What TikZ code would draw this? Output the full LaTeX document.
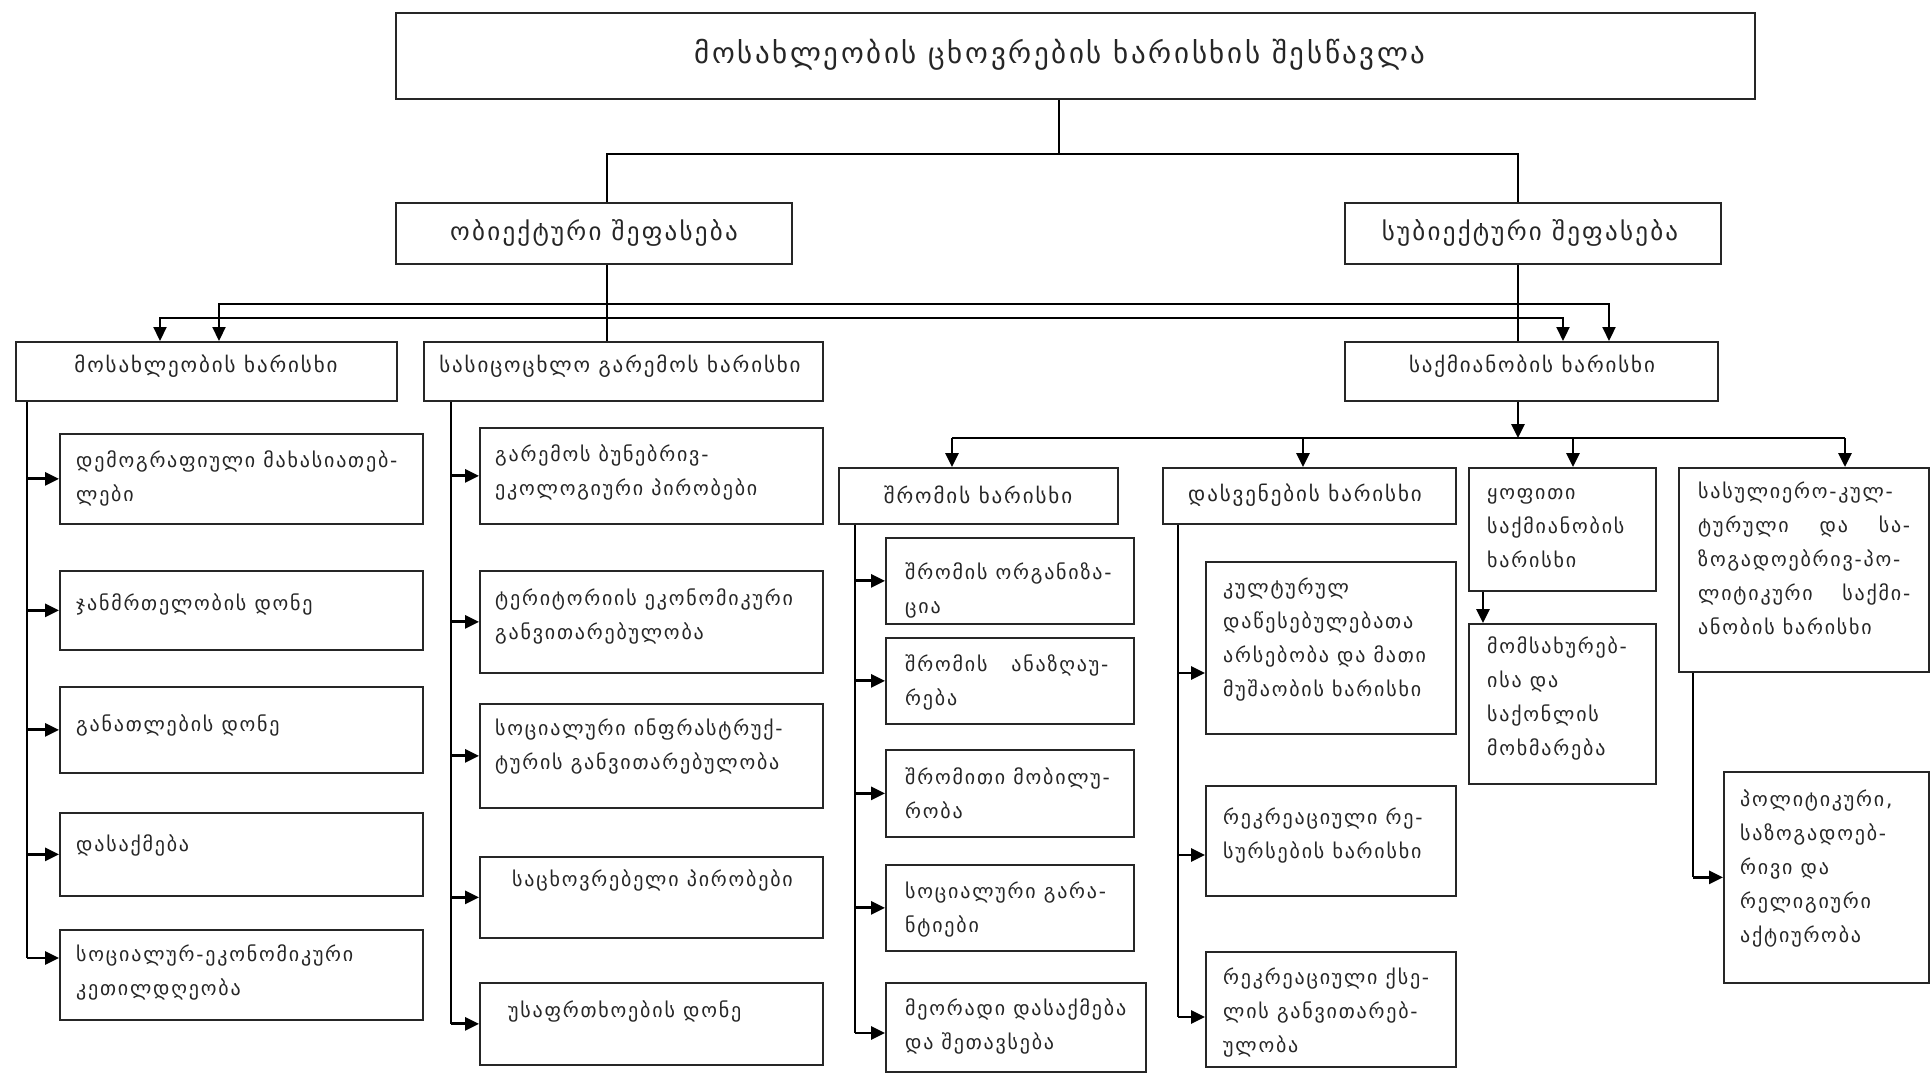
\documentclass[tikz,border=0pt]{standalone}
\usepackage{fontspec}
\setmainfont{DejaVu Sans}[LetterSpace=9]
\usetikzlibrary{arrows.meta}
\newcommand\fbody{\fontsize{20}{34}\selectfont}
\newcommand\fthree{\fontsize{21}{34}\selectfont}
\newcommand\ftwo{\fontsize{25}{30}\selectfont}
\newcommand\fone{\fontsize{29}{34}\selectfont}
\newcommand\ml[1]{\begin{tabular}[t]{@{}l@{}}#1\end{tabular}}
\newcommand\jl[1]{\makebox[212pt][s]{#1}}
\newcommand\mybox[5]{\node[box, minimum width={(#4)-(#2)}, minimum height={(#5)-(#3)}] (#1) at (#2,#3) {};}
\begin{document}
\begin{tikzpicture}[x=1pt,y=-1pt,
  box/.style={draw=black!85, line width=1.7pt, inner sep=0pt, anchor=north west, rectangle},
  txt/.style={inner sep=0pt, anchor=base west, font=\fbody, text=black!85},
  ctxt/.style={inner sep=0pt, anchor=center, text=black!85},
  ln/.style={line width=2.2pt, draw=black},
  arr/.style={line width=2.9pt, draw=black, -{Triangle[length=14pt,width=13pt]}},
  darr/.style={ln, {Triangle[length=14pt,width=13pt]}-{Triangle[length=14pt,width=13pt]}},
]
\fill[white] (0,0) rectangle (1930,1073);
\useasboundingbox (0,0) rectangle (1930,1073);

% ---- boxes ----
\mybox{title}{395}{12}{1754}{98}
\mybox{ol}{395}{202}{791}{263}
\mybox{sl}{1344}{202}{1720}{263}
\mybox{A}{15}{341}{396}{400}
\mybox{B}{423}{341}{822}{400}
\mybox{C}{1344}{341}{1717}{400}
\mybox{a1}{59}{433}{422}{523}
\mybox{a2}{59}{570}{422}{649}
\mybox{a3}{59}{686}{422}{772}
\mybox{a4}{59}{812}{422}{895}
\mybox{a5}{59}{929}{422}{1019}
\mybox{b1}{479}{427}{822}{523}
\mybox{b2}{479}{570}{822}{672}
\mybox{b3}{479}{703}{822}{807}
\mybox{b4}{479}{856}{822}{937}
\mybox{b5}{479}{982}{822}{1064}
\mybox{S}{838}{467}{1117}{523}
\mybox{c1}{885}{537}{1133}{623}
\mybox{c2}{885}{637}{1133}{723}
\mybox{c3}{885}{749}{1133}{836}
\mybox{c4}{885}{864}{1133}{950}
\mybox{c5}{885}{982}{1145}{1071}
\mybox{D}{1162}{467}{1455}{523}
\mybox{d1}{1205}{561}{1455}{733}
\mybox{d2}{1205}{785}{1455}{895}
\mybox{d3}{1205}{951}{1455}{1066}
\mybox{Y}{1468}{467}{1655}{590}
\mybox{m}{1468}{623}{1655}{783}
\mybox{R}{1678}{467}{1928}{671}
\mybox{p}{1723}{771}{1928}{982}

% ---- texts ----
\node[ctxt, font=\fone] (title-t) at (1060,55) {მოსახლეობის ცხოვრების ხარისხის შესწავლა};
\node[ctxt, font=\ftwo] (ol-t) at (594,233) {ობიექტური შეფასება};
\node[ctxt, font=\ftwo] (sl-t) at (1530,233) {სუბიექტური შეფასება};
\node[ctxt, font=\fthree] (A-t) at (206,366) {მოსახლეობის ხარისხი};
\node[ctxt, font=\fthree] (B-t) at (620,366) {სასიცოცხლო გარემოს ხარისხი};
\node[ctxt, font=\fthree] (C-t) at (1532,366) {საქმიანობის ხარისხი};
\node[ctxt, font=\fthree] (S-t) at (978,495) {შრომის ხარისხი};
\node[ctxt, font=\fthree] (D-t) at (1305,495) {დასვენების ხარისხი};

\node[txt] (a1-t) at (76,467) {\ml{დემოგრაფიული მახასიათებ-\\ლები}};
\node[txt] (a2-t) at (76,610) {ჯანმრთელობის დონე};
\node[txt] (a3-t) at (76,731) {განათლების დონე};
\node[txt] (a4-t) at (76,851) {დასაქმება};
\node[txt] (a5-t) at (76,961) {\ml{სოციალურ-ეკონომიკური\\კეთილდღეობა}};

\node[txt] (b1-t) at (495,461) {\ml{გარემოს ბუნებრივ-\\ეკოლოგიური პირობები}};
\node[txt] (b2-t) at (495,605) {\ml{ტერიტორიის ეკონომიკური\\განვითარებულობა}};
\node[txt] (b3-t) at (495,735) {\ml{სოციალური ინფრასტრუქ-\\ტურის განვითარებულობა}};
\node[txt] (b4-t) at (512,886) {საცხოვრებელი პირობები};
\node[txt] (b5-t) at (508,1017) {უსაფრთხოების დონე};

\node[txt] (c1-t) at (905,579) {\ml{შრომის ორგანიზა-\\ცია}};
\node[txt] (c2-t) at (905,671) {\ml{შრომის\hspace{1.2em}ანაზღაუ-\\რება}};
\node[txt] (c3-t) at (905,784) {\ml{შრომითი მობილუ-\\რობა}};
\node[txt] (c4-t) at (905,898) {\ml{სოციალური გარა-\\ნტიები}};
\node[txt] (c5-t) at (905,1015) {\ml{მეორადი დასაქმება\\და შეთავსება}};

\node[txt] (d1-t) at (1223,594) {\ml{კულტურულ\\დაწესებულებათა\\არსებობა და მათი\\მუშაობის ხარისხი}};
\node[txt] (d2-t) at (1223,824) {\ml{რეკრეაციული რე-\\სურსების ხარისხი}};
\node[txt] (d3-t) at (1223,984) {\ml{რეკრეაციული ქსე-\\ლის განვითარებ-\\ულობა}};

\node[txt] (Y-t) at (1487,499) {\ml{ყოფითი\\საქმიანობის\\ხარისხი}};
\node[txt] (m-t) at (1487,653) {\ml{მომსახურებ-\\ისა და\\საქონლის\\მოხმარება}};
\node[txt] (R-t) at (1698,498) {\ml{სასულიერო-კულ-\\\jl{ტურული და სა-}\\ზოგადოებრივ-პო-\\\jl{ლიტიკური საქმი-}\\ანობის ხარისხი}};
\node[txt] (p-t) at (1740,806) {\ml{პოლიტიკური,\\საზოგადოებ-\\რივი და\\რელიგიური\\აქტიურობა}};

% ---- connectors ----
\coordinate (j) at (1059,154);
\coordinate (lx) at (607,0);
\coordinate (rx) at (1518,0);
\draw[ln] (title.south -| j) -- (j);
\draw[ln] (lx |- ol.north) -- (lx |- j) -- (rx |- j) -- (rx |- sl.north);
\draw[ln] (lx |- ol.south) -- (lx |- B.north);
\draw[ln] (rx |- sl.south) -- (rx |- C.north);

\coordinate (u1) at (219,304); \coordinate (u2) at (1609,304);
\coordinate (w1) at (160,318); \coordinate (w2) at (1563,318);
\draw[darr] (u1 |- A.north) -- (u1) -- (u2) -- (u2 |- C.north);
\draw[darr] (w1 |- A.north) -- (w1) -- (w2) -- (w2 |- C.north);

\coordinate (k) at (1518,438);
\coordinate (k1) at (952,438); \coordinate (k2) at (1303,438);
\coordinate (k3) at (1573,438); \coordinate (k4) at (1845,438);
\draw[arr] (rx |- C.south) -- (k);
\draw[ln] (k1) -- (k4);
\draw[arr] (k1) -- (k1 |- S.north);
\draw[arr] (k2) -- (k2 |- D.north);
\draw[arr] (k3) -- (k3 |- Y.north);
\draw[arr] (k4) -- (k4 |- R.north);

% left column
\coordinate (ta) at (27,0);
\draw[ln] (ta |- A.south) -- (ta |- 0,958);
\foreach \n in {a1,a2,a3,a4} \draw[arr] (ta |- \n.west) -- (\n.west);
\draw[arr] (ta |- 0,958) -- (a5.west |- 0,958);

% second column
\coordinate (tb) at (451,0);
\draw[ln] (tb |- B.south) -- (tb |- b5.west);
\foreach \n in {b1,b2,b3,b4,b5} \draw[arr] (tb |- \n.west) -- (\n.west);

% labour column
\coordinate (tc) at (855,0);
\draw[ln] (tc |- S.south) -- (tc |- 0,1033);
\foreach \n in {c1,c2,c3,c4} \draw[arr] (tc |- \n.west) -- (\n.west);
\draw[arr] (tc |- 0,1033) -- (c5.west |- 0,1033);

% leisure column
\coordinate (td) at (1178,0);
\draw[ln] (td |- D.south) -- (td |- 0,1017);
\draw[arr] (td |- 0,673) -- (d1.west |- 0,673);
\draw[arr] (td |- 0,855) -- (d2.west |- 0,855);
\draw[arr] (td |- 0,1017) -- (d3.west |- 0,1017);

% everyday
\draw[arr] (1483,0 |- Y.south) -- (1483,0 |- m.north);

% spiritual
\coordinate (tr) at (1693,0);
\draw[ln] (tr |- R.south) -- (tr |- p.west);
\draw[arr] (tr |- p.west) -- (p.west);
\end{tikzpicture}
\end{document}
